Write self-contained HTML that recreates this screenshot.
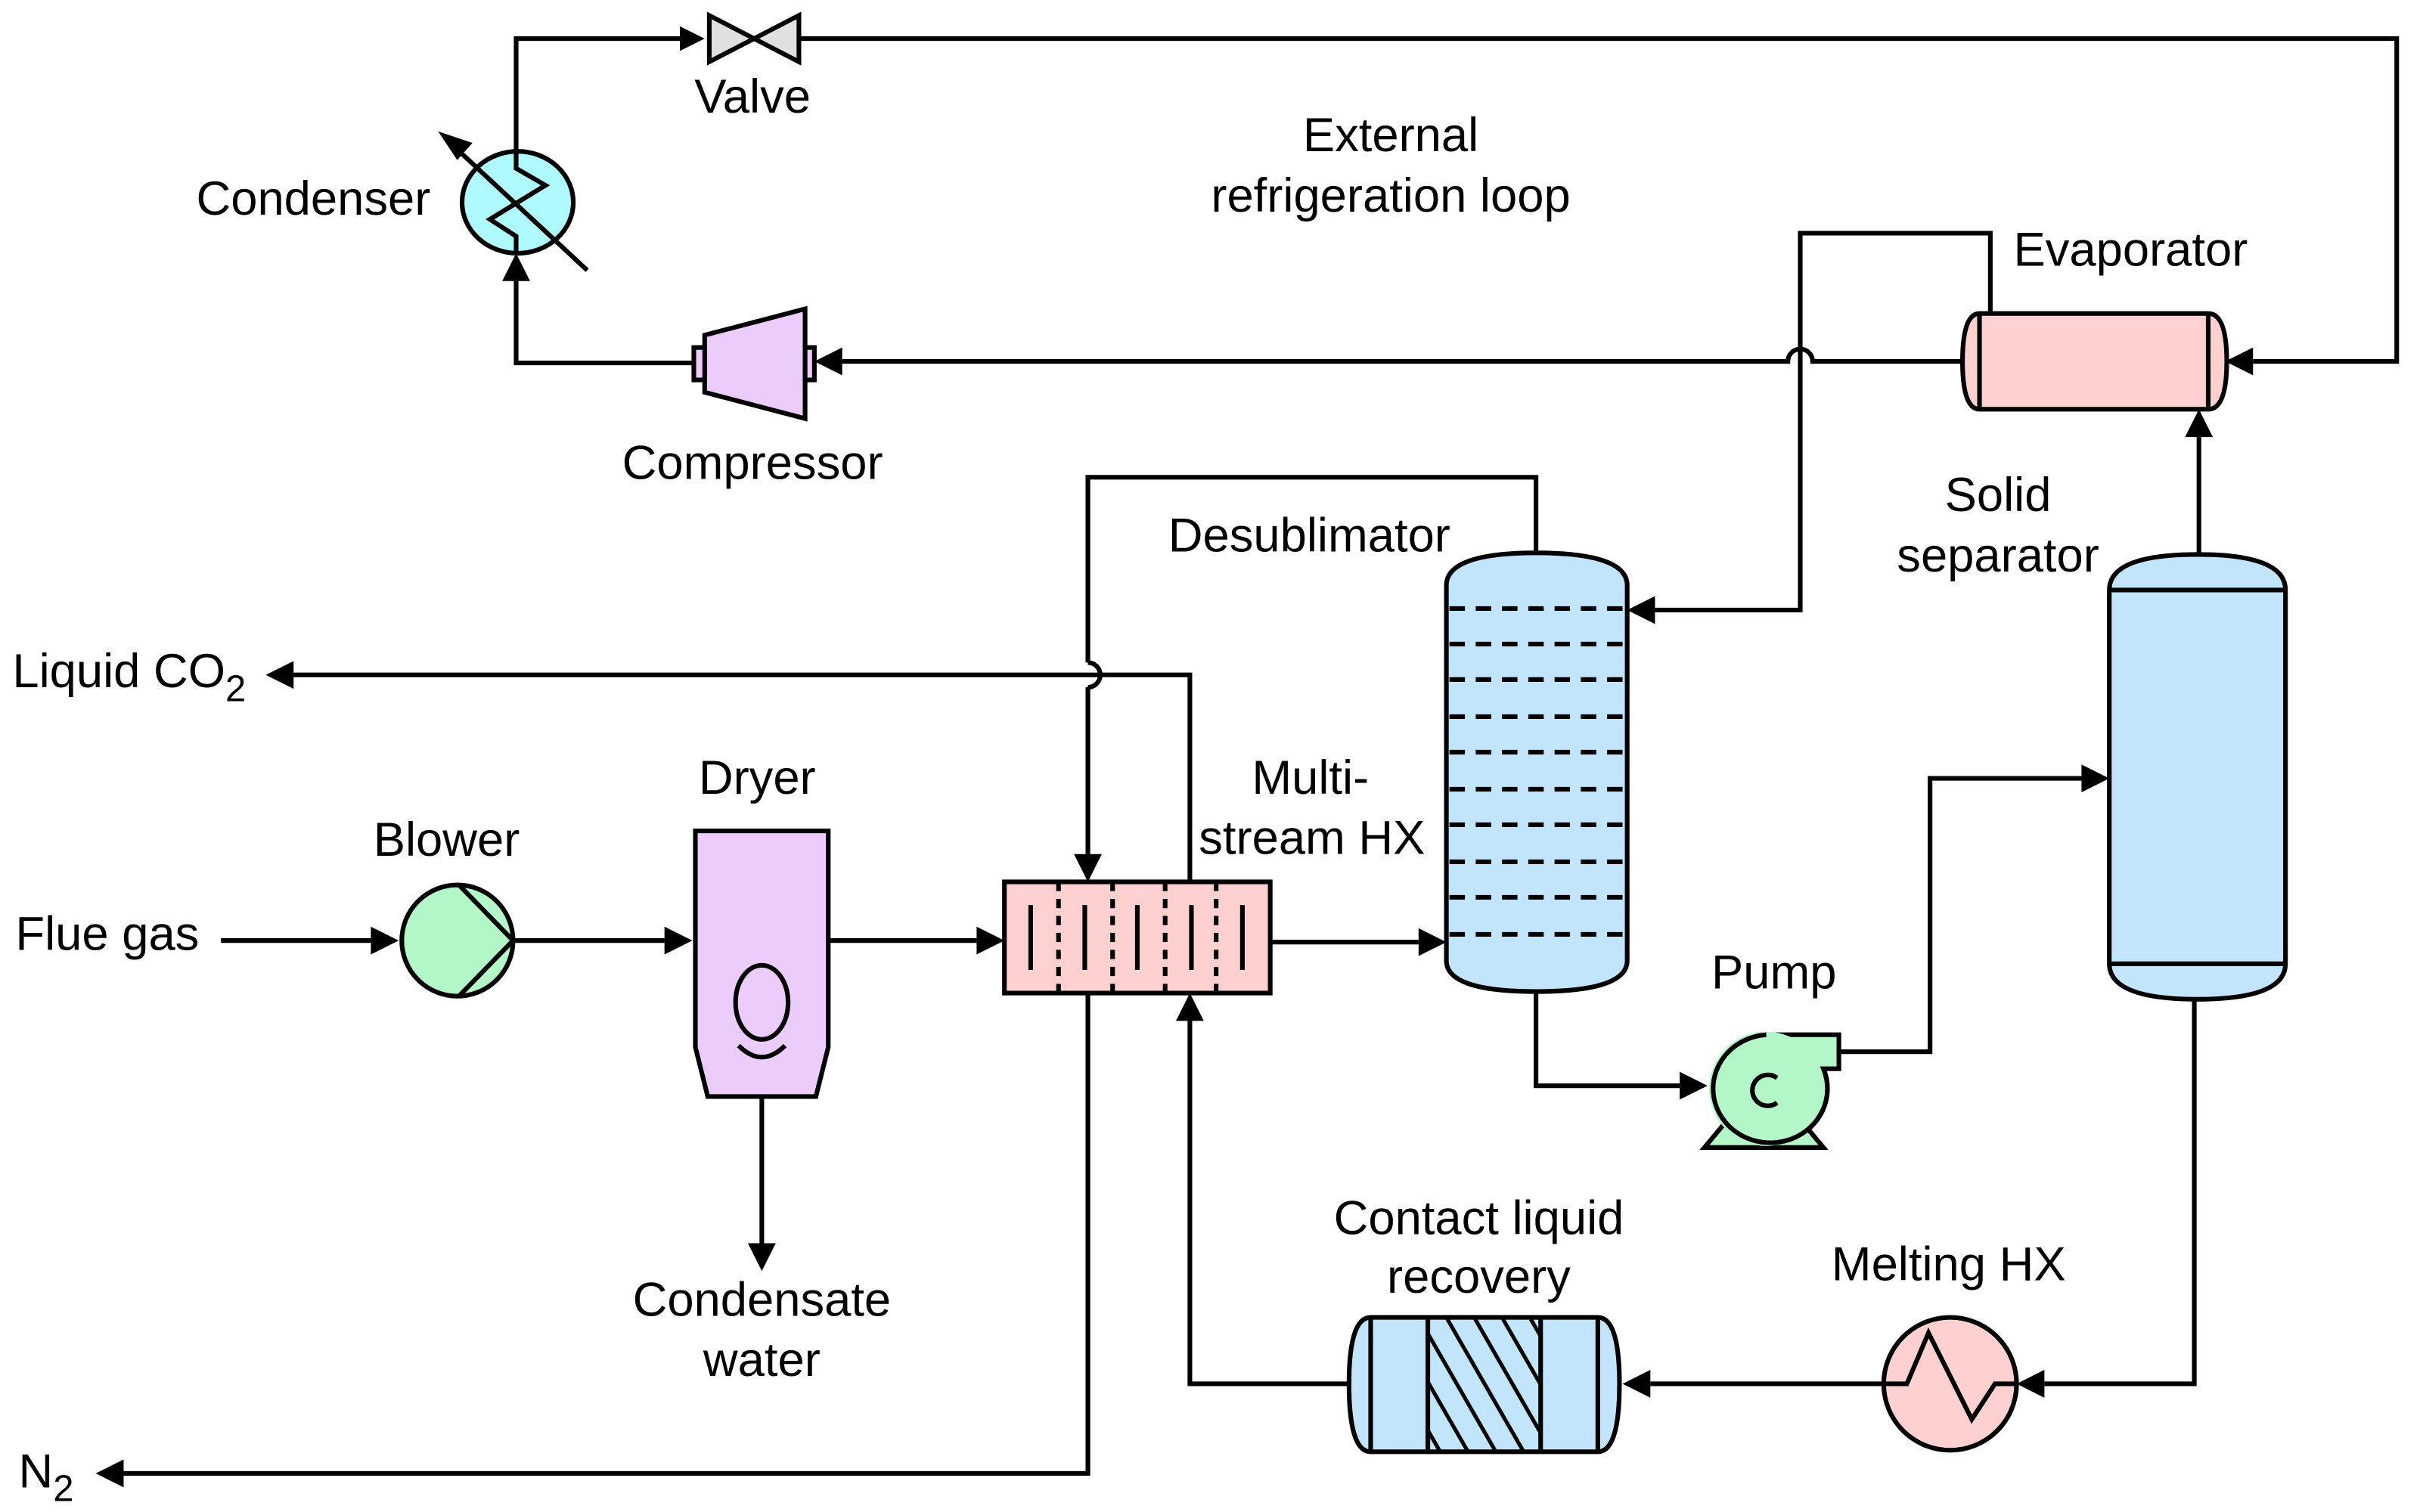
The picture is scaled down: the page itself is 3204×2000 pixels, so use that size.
<!DOCTYPE html>
<html><head><meta charset="utf-8"><style>
html,body{margin:0;padding:0;background:#fff;}
svg{display:block;}
text{font-family:"Liberation Sans",Arial,sans-serif;font-size:31px;fill:#000;}
</style></head><body>
<svg width="3204" height="2000" viewBox="0 0 1568 979" preserveAspectRatio="none" xmlns="http://www.w3.org/2000/svg">
<g fill="none" stroke="#000" stroke-width="3">
<polyline points="334,99 334,25 440,25"/>
<polygon points="440,17 456,25 440,33" fill="#000" stroke="none"/>
<polyline points="517,25 1551,25 1551,234 1458,234"/>
<polygon points="1458,225 1440,234 1458,243" fill="#000" stroke="none"/>
<path d="M1270,234 L1173,234 A8,8 0 0 0 1157,234 L545,234"/>
<polygon points="545,225 527,234 545,243" fill="#000" stroke="none"/>
<polyline points="449,235 334,235 334,182"/>
<polygon points="325,182 334,164 343,182" fill="#000" stroke="none"/>
<polyline points="1288,203 1288,151 1165,151 1165,395 1071,395"/>
<polygon points="1071,386 1053,395 1071,404" fill="#000" stroke="none"/>
<polyline points="1423,359 1423,283"/>
<polygon points="1414,283 1423,265 1432,283" fill="#000" stroke="none"/>
<polyline points="994,358 994,309 704,309 704,429"/>
<path d="M704,429 A8,8 0 0 1 704,445"/>
<polyline points="704,445 704,553"/>
<polygon points="695,553 704,571 713,553" fill="#000" stroke="none"/>
<polyline points="770,571 770,437 190,437"/>
<polygon points="190,428 172,437 190,446" fill="#000" stroke="none"/>
<line x1="143" y1="609" x2="240" y2="609"/>
<polygon points="240,600 258,609 240,618" fill="#000" stroke="none"/>
<line x1="332" y1="609" x2="430" y2="609"/>
<polygon points="430,600 448,609 430,618" fill="#000" stroke="none"/>
<line x1="536" y1="609" x2="632" y2="609"/>
<polygon points="632,600 650,609 632,618" fill="#000" stroke="none"/>
<line x1="822" y1="610" x2="918" y2="610"/>
<polygon points="918,601 936,610 918,619" fill="#000" stroke="none"/>
<line x1="493" y1="710" x2="493" y2="805"/>
<polygon points="484,805 493,823 502,805" fill="#000" stroke="none"/>
<polyline points="704,643 704,954 80,954"/>
<polygon points="80,945 62,954 80,963" fill="#000" stroke="none"/>
<polyline points="873,896 770,896 770,661"/>
<polygon points="761,661 770,643 779,661" fill="#000" stroke="none"/>
<polyline points="994,642 994,703 1087,703"/>
<polygon points="1087,694 1105,703 1087,712" fill="#000" stroke="none"/>
<polyline points="1190,681 1249,681 1249,504 1347,504"/>
<polygon points="1347,495 1365,504 1347,513" fill="#000" stroke="none"/>
<polyline points="1420,647 1420,896 1323,896"/>
<polygon points="1323,887 1305,896 1323,905" fill="#000" stroke="none"/>
<line x1="1219" y1="896" x2="1068" y2="896"/>
<polygon points="1068,887 1050,896 1068,905" fill="#000" stroke="none"/>

<ellipse cx="335" cy="131" rx="36" ry="33" fill="#aefaff"/>
<polyline points="334,99 334,109 353,120 317,142 334,153 334,164"/>
<line x1="380" y1="175" x2="294" y2="95"/>
<polygon points="286,87 304,93 296,102" fill="#000" stroke="#000" stroke-width="2"/>
<polygon points="459,10 517,40 517,10 459,40" fill="#e0e0e0"/>
<polygon points="456,217 521,200 521,271 456,254" fill="#ecccfb"/>
<rect x="449" y="225" width="7" height="21" fill="#ecccfb"/>
<rect x="521" y="225" width="6" height="21" fill="#ecccfb"/>
<path d="M1281,203 L1429,203 Q1441,203 1441,234 Q1441,265 1429,265 L1281,265 Q1270,265 1270,234 Q1270,203 1281,203 Z" fill="#ffd0d0"/>
<line x1="1281" y1="203" x2="1281" y2="265"/>
<line x1="1429" y1="203" x2="1429" y2="265"/>
<path d="M936,379 Q936,358 994,358 Q1053,358 1053,379 L1053,622 Q1053,642 994,642 Q936,642 936,622 Z" fill="#c3e5fb"/>
<path d="M1365,382 Q1365,359 1422,359 Q1479,359 1479,382 L1479,624 Q1479,647 1422,647 Q1365,647 1365,624 Z" fill="#c3e5fb"/>
<line x1="1365" y1="382" x2="1479" y2="382"/>
<line x1="1365" y1="624" x2="1479" y2="624"/>
<circle cx="296" cy="609" r="36" fill="#b3f7c8"/>
<polyline points="297,573 332,609 297,645"/>
<polygon points="450,538 536,538 536,678 528,710 458,710 450,678" fill="#ecccfb"/>
<ellipse cx="493" cy="649" rx="17" ry="24"/>
<path d="M478,677 Q493,692 508,677"/>
<rect x="650" y="571" width="172" height="72" fill="#ffd0d0"/>
<path d="M1143,670 L1190,670 L1190,692 L1180,692 A37,35 0 1 1 1143,670 Z" fill="#b3f7c8"/>
<polygon points="1103,743 1180,743 1165,725 1118,725" fill="#b3f7c8"/>
<circle cx="1143" cy="705" r="37" fill="#b3f7c8" stroke="none"/>
<path d="M1143,670 A37,35 0 1 0 1180,692" />
<path d="M1150,698 A10,10 0 1 0 1150,714"/>
<circle cx="1262" cy="896" r="43" fill="#ffd0d0"/>
<polyline points="1219,896 1234,896 1248,863 1276,919 1291,896 1305,896"/>
<path d="M887,853 L1034,853 Q1048,853 1048,896 Q1048,940 1034,940 L887,940 Q873,940 873,896 Q873,853 887,853 Z" fill="#c3e5fb"/>
<line x1="887" y1="853" x2="887" y2="940"/>
<line x1="1034" y1="853" x2="1034" y2="940"/>
<line x1="924" y1="853" x2="924" y2="940"/>
<line x1="997" y1="853" x2="997" y2="940"/>
</g>
<g stroke="#000" stroke-width="3" fill="none">
<g stroke-dasharray="6,5">
<line x1="685" y1="571" x2="685" y2="643"/><line x1="720" y1="571" x2="720" y2="643"/>
<line x1="754" y1="571" x2="754" y2="643"/><line x1="787" y1="571" x2="787" y2="643"/>
</g>
<line x1="667" y1="586" x2="667" y2="628"/><line x1="702" y1="586" x2="702" y2="628"/>
<line x1="736" y1="586" x2="736" y2="628"/><line x1="771" y1="586" x2="771" y2="628"/>
<line x1="804" y1="586" x2="804" y2="628"/>
<g stroke-dasharray="10,7">
<line x1="938" y1="394" x2="1050" y2="394"/><line x1="938" y1="417" x2="1050" y2="417"/>
<line x1="938" y1="440" x2="1050" y2="440"/><line x1="938" y1="464" x2="1050" y2="464"/>
<line x1="938" y1="487" x2="1050" y2="487"/><line x1="938" y1="511" x2="1050" y2="511"/>
<line x1="938" y1="534" x2="1050" y2="534"/><line x1="938" y1="558" x2="1050" y2="558"/>
<line x1="938" y1="581" x2="1050" y2="581"/><line x1="938" y1="605" x2="1050" y2="605"/>
</g>
<clipPath id="hc"><rect x="924" y="853" width="73" height="87"/></clipPath>
<g clip-path="url(#hc)" stroke-width="2.5">
<line x1="900" y1="853" x2="950" y2="940"/><line x1="918" y1="853" x2="968" y2="940"/>
<line x1="936" y1="853" x2="986" y2="940"/><line x1="954" y1="853" x2="1004" y2="940"/>
<line x1="972" y1="853" x2="1022" y2="940"/><line x1="990" y1="853" x2="1040" y2="940"/>
<line x1="882" y1="853" x2="932" y2="940"/>
</g>
</g>
<g>
<text x="487" y="73" text-anchor="middle">Valve</text>
<text x="127" y="139">Condenser</text>
<text x="487" y="310" text-anchor="middle">Compressor</text>
<text x="900" y="98" text-anchor="middle">External</text>
<text x="900" y="137" text-anchor="middle">refrigeration loop</text>
<text x="1303" y="172">Evaporator</text>
<text x="756" y="357">Desublimator</text>
<text x="1293" y="331" text-anchor="middle">Solid</text>
<text x="1293" y="370" text-anchor="middle">separator</text>
<text x="8" y="445">Liquid CO<tspan font-size="24" dy="9">2</tspan></text>
<text x="848" y="514" text-anchor="middle">Multi-</text>
<text x="849" y="553" text-anchor="middle">stream HX</text>
<text x="490" y="514" text-anchor="middle">Dryer</text>
<text x="289" y="554" text-anchor="middle">Blower</text>
<text x="10" y="615">Flue gas</text>
<text x="1148" y="640" text-anchor="middle">Pump</text>
<text x="493" y="852" text-anchor="middle">Condensate</text>
<text x="493" y="891" text-anchor="middle">water</text>
<text x="957" y="799" text-anchor="middle">Contact liquid</text>
<text x="957" y="837" text-anchor="middle">recovery</text>
<text x="1261" y="829" text-anchor="middle">Melting HX</text>
<text x="12" y="963">N<tspan font-size="24" dy="9">2</tspan></text>
</g>
</svg>
</body></html>
